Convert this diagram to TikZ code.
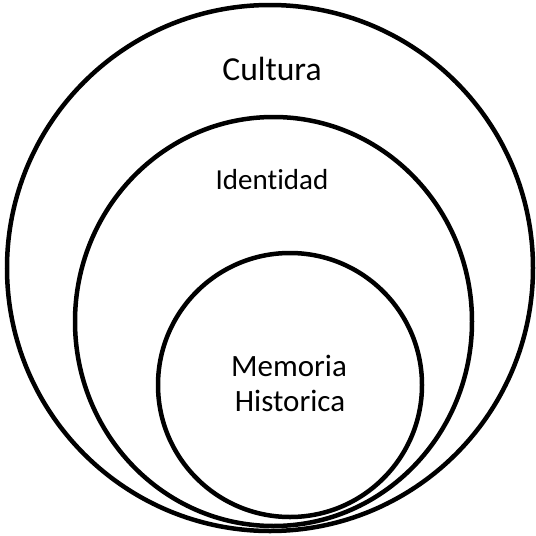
\documentclass[tikz,border=0pt]{standalone}
\usepackage{fontspec}
\setmainfont[Ligatures=NoCommon]{Carlito}
\begin{document}
\begin{tikzpicture}[x=1pt,y=-1pt,
  ring/.style={line width=4.5pt,draw=black},
  lbl/.style={anchor=base,inner sep=0pt,text=black}]
\useasboundingbox (0,0) rectangle (536,536);
\draw[ring] (270,268) ellipse [x radius=263,y radius=263];
\draw[ring] (273.5,321.5) ellipse [x radius=198.5,y radius=204.5];
\draw[ring] (290,385) ellipse [x radius=132,y radius=132];
\node[lbl,font=\fontsize{33.6}{40}\selectfont] (cultura) at (272,80) {Cultura};
\node[lbl,font=\fontsize{29}{35}\selectfont] (identidad) at (272,189) {Identidad};
\node[lbl,font=\fontsize{31}{34}\selectfont] (memoria) at (289,376.7) {Memoria};
\node[lbl,font=\fontsize{31}{34}\selectfont] (historica) at (290,411) {Historica};
\end{tikzpicture}
\end{document}
